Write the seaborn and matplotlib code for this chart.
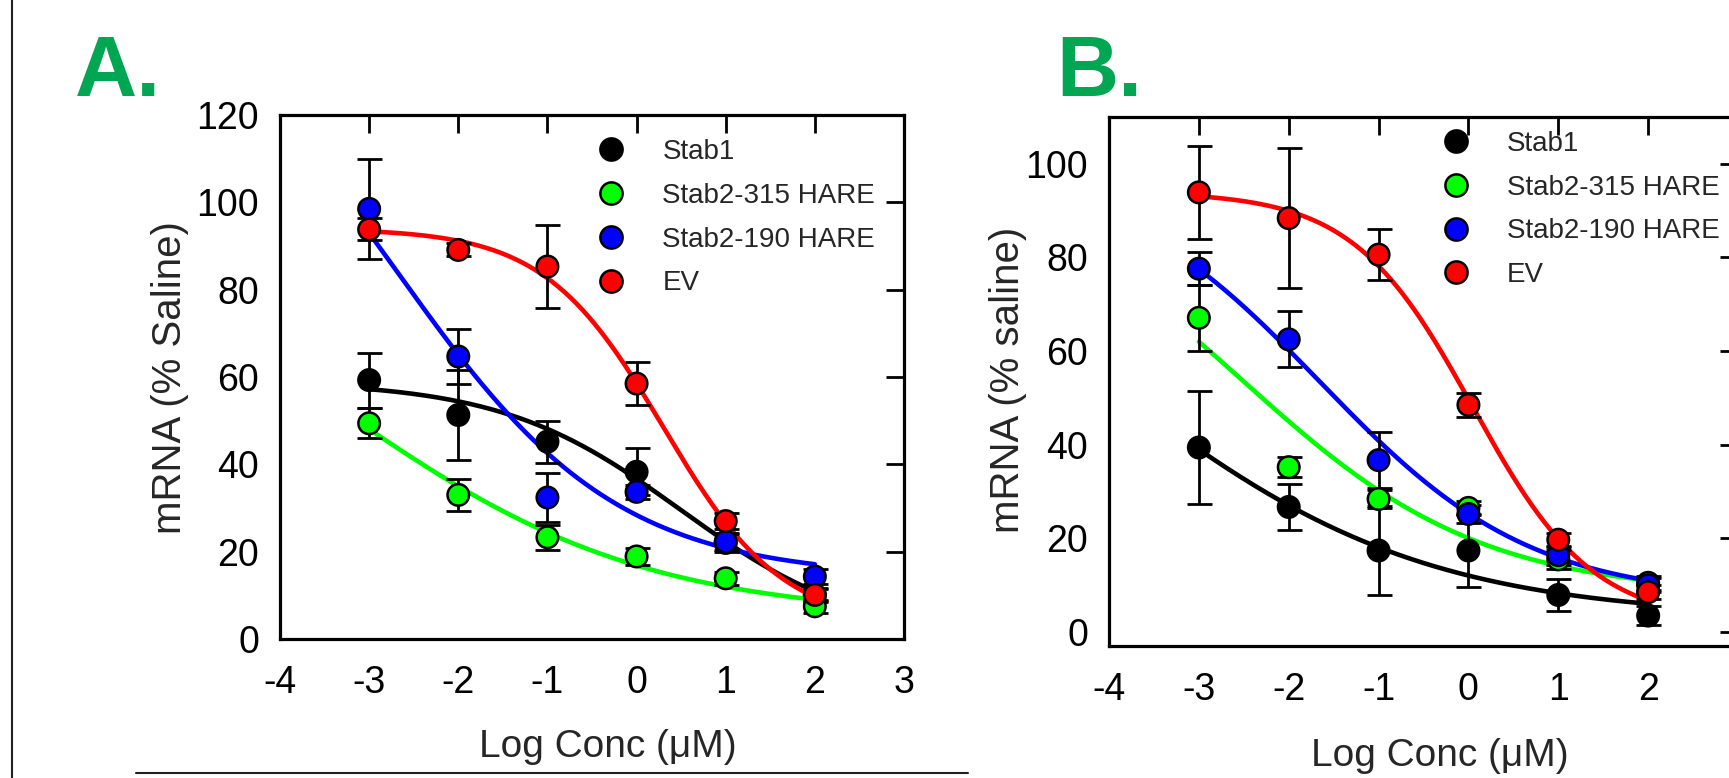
import numpy as np
import pandas as pd
import matplotlib
matplotlib.use("Agg")
import matplotlib.pyplot as plt
from matplotlib.lines import Line2D
import seaborn as sns

# x positions (log concentration, uM)
log_conc = [-3, -2, -1, 0, 1, 2]
series_names = ["Stab1", "Stab2-315 HARE", "Stab2-190 HARE", "EV"]
series_colors = ["#000000", "#00ff00", "#0000ff", "#ff0000"]

# Panel A: mean mRNA (% saline) and SEM
a_stab1 = [59.3, 51.3, 45.2, 38.3, 22.0, 10.0]
a_stab1_err = [6.3, 10.3, 4.8, 5.4, 2.0, 1.5]
a_stab2_315 = [49.4, 33.0, 23.3, 18.9, 13.9, 7.5]
a_stab2_315_err = [3.4, 3.7, 2.9, 2.0, 1.5, 1.5]
a_stab2_190 = [98.5, 64.7, 32.4, 33.7, 22.3, 14.3]
a_stab2_190_err = [11.4, 6.2, 5.7, 1.6, 2.0, 1.7]
a_ev = [93.8, 89.1, 85.3, 58.5, 27.0, 10.1]
a_ev_err = [2.5, 1.5, 9.4, 5.0, 1.8, 1.5]

# Panel B
b_stab1 = [39.4, 26.7, 17.4, 17.4, 7.9, 3.5]
b_stab1_err = [12.0, 5.0, 9.5, 7.8, 3.4, 2.0]
b_stab2_315 = [67.1, 35.2, 28.4, 26.5, 15.5, 10.5]
b_stab2_315_err = [7.0, 2.2, 2.0, 1.5, 2.0, 1.5]
b_stab2_190 = [77.6, 62.5, 36.7, 25.2, 16.4, 10.0]
b_stab2_190_err = [3.5, 6.0, 6.0, 2.0, 2.0, 1.5]
b_ev = [93.9, 88.4, 80.6, 48.5, 19.7, 8.5]
b_ev_err = [10.0, 15.0, 5.5, 2.5, 1.5, 1.5]

# fitted dose-response curves: top, bottom, logEC50, hill slope
a_fit_stab1 = [59, 0, 0.5, 0.43]
a_fit_stab2_315 = [100, 5, -3.32, 0.255]
a_fit_stab2_190 = [155, 14, -2.7, 0.35]
a_fit_ev = [94, 3, 0.3, 0.65]
b_fit_stab1 = [100, 3, -3.905, 0.253]
b_fit_stab2_315 = [100, 8, -2.53, 0.325]
b_fit_stab2_190 = [100, 7, -1.656, 0.369]
b_fit_ev = [94, 2, 0.05, 0.65]

GREEN = "#00a651"
FONT = ["Liberation Sans", "DejaVu Sans"]


def logistic(x, p):
    top, bottom, ec50, hill = p
    return bottom + (top - bottom) / (1 + 10 ** ((x - ec50) * hill))


def build_frames(means, errs, fits):
    pts = []
    curves = []
    xs = np.linspace(log_conc[0], log_conc[-1], 300)
    for name, m, e, p in zip(series_names, means, errs, fits):
        for x, y, s in zip(log_conc, m, e):
            pts.append({"x": x, "y": y, "err": s, "series": name})
        for x in xs:
            curves.append({"x": x, "y": logistic(x, p), "series": name})
    return pd.DataFrame(pts), pd.DataFrame(curves)


def draw_panel(ax, pts, curves, ylim, yticks, ylabel):
    palette = dict(zip(series_names, series_colors))
    sns.lineplot(data=curves, x="x", y="y", hue="series", palette=palette,
                 linewidth=3.3, legend=False, errorbar=None, ax=ax, zorder=2)
    for name in series_names:
        d = pts[pts["series"] == name]
        ax.errorbar(d["x"], d["y"], yerr=d["err"], fmt="none", ecolor="black",
                    elinewidth=2.0, capsize=9, capthick=2.0, zorder=3)
    sns.scatterplot(data=pts, x="x", y="y", hue="series", palette=palette,
                    s=240, edgecolor="black", linewidth=1.8, legend=False,
                    ax=ax, zorder=4)

    ax.set_xlim(-4, 3)
    ax.set_ylim(*ylim)
    ax.set_xticks(range(-4, 4))
    ax.set_yticks(yticks)
    ax.tick_params(direction="in", length=13, width=2.0, top=True, right=True,
                   labelsize=27, colors="black")
    ax.tick_params(axis="y", pad=15)
    ax.tick_params(axis="x", pad=19)
    for sp in ax.spines.values():
        sp.set_linewidth(2.3)
        sp.set_color("black")
    ax.set_xlabel("Log Conc (\u03bcM)", fontsize=28)
    ax.set_ylabel(ylabel, fontsize=29)
    for lab in ax.get_xticklabels() + ax.get_yticklabels():
        lab.set_family(FONT)
    ax.xaxis.label.set_family(FONT)
    ax.yaxis.label.set_family(FONT)


sns.set_style("white")
plt.rcParams["font.family"] = FONT
plt.rcParams["axes.unicode_minus"] = False

fig = plt.figure(figsize=(17.29, 7.78), dpi=100)
W, H = 1729, 778
ax_a = fig.add_axes([280 / W, 1 - 639 / H, 624 / W, 524 / H])
ax_b = fig.add_axes([1109 / W, 1 - 646 / H, 629 / W, 529 / H])

pts_a, cur_a = build_frames([a_stab1, a_stab2_315, a_stab2_190, a_ev],
                            [a_stab1_err, a_stab2_315_err, a_stab2_190_err, a_ev_err],
                            [a_fit_stab1, a_fit_stab2_315, a_fit_stab2_190, a_fit_ev])
pts_b, cur_b = build_frames([b_stab1, b_stab2_315, b_stab2_190, b_ev],
                            [b_stab1_err, b_stab2_315_err, b_stab2_190_err, b_ev_err],
                            [b_fit_stab1, b_fit_stab2_315, b_fit_stab2_190, b_fit_ev])

draw_panel(ax_a, pts_a, cur_a, (0, 120), range(0, 121, 20), "mRNA (% Saline)")
draw_panel(ax_b, pts_b, cur_b, (-3, 110), range(0, 101, 20), "mRNA (% saline)")

ax_a.xaxis.set_label_coords(0.526, -0.171)
ax_a.yaxis.set_label_coords(-0.146, 0.498)
ax_b.xaxis.set_label_coords(0.526, -0.173)
ax_b.yaxis.set_label_coords(-0.130, 0.503)

# legends
handles = [Line2D([], [], ls="", marker="o", markersize=16, markerfacecolor=c,
                  markeredgecolor="black", markeredgewidth=1.8)
           for c in series_colors]
for ax, anchor in [(ax_a, (0.508, 0.954)), (ax_b, (0.529, 0.974))]:
    ax.legend(handles, series_names, loc="upper left", bbox_to_anchor=anchor,
              frameon=False, fontsize=20, handlelength=1.0, handletextpad=1.35,
              labelspacing=0.64, borderpad=0, borderaxespad=0)

# panel letters
fig.text(75 / W, 1 - 96 / H, "A.", color=GREEN, fontsize=62, fontweight="bold",
         ha="left", va="baseline", family=FONT)
fig.text(1056 / W, 1 - 96 / H, "B.", color=GREEN, fontsize=62, fontweight="bold",
         ha="left", va="baseline", family=FONT)

# page frame remnants
fig.add_artist(Line2D([12 / W, 12 / W], [0, 1], color="#222222", lw=1.5))
fig.add_artist(Line2D([136 / W, 968 / W], [1 - 773 / H, 1 - 773 / H],
                      color="#222222", lw=1.5))

fig.savefig("out.png", dpi=100)
